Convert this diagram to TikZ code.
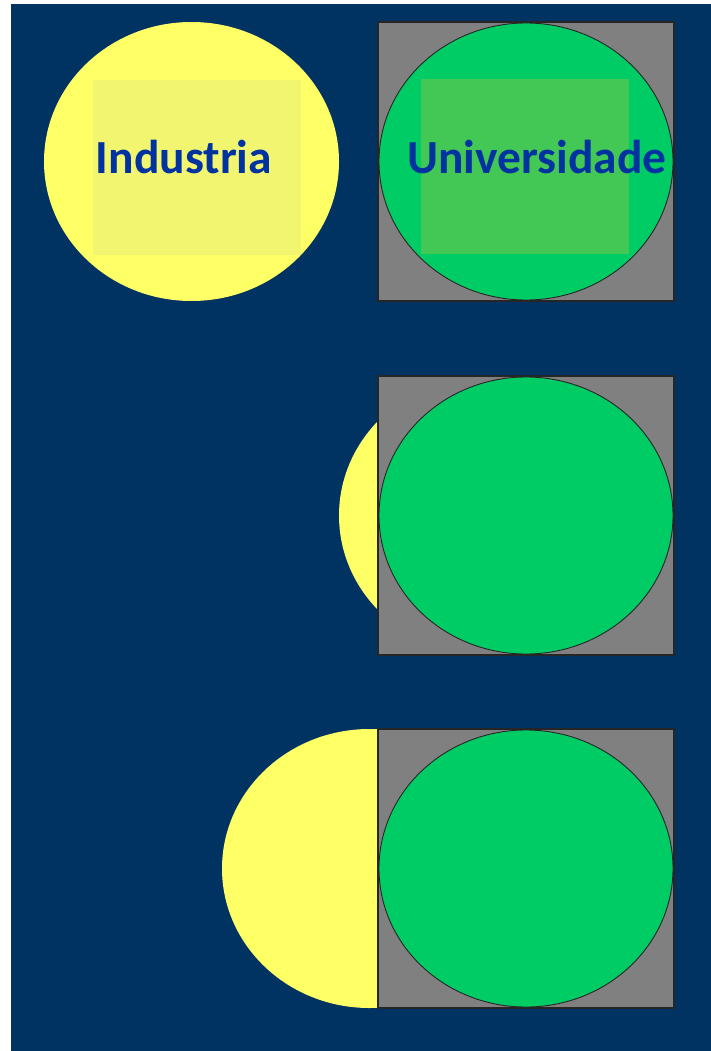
\documentclass[tikz,border=0pt]{standalone}
\usepackage{fontspec}
\setmainfont{Carlito}
\usetikzlibrary{shapes.geometric}
\definecolor{bgblue}{HTML}{003262}
\definecolor{sunyel}{HTML}{FFFF66}
\definecolor{paleyel}{HTML}{F2F570}
\definecolor{leafgrn}{HTML}{00CC66}
\definecolor{palegrn}{HTML}{44C855}
\definecolor{boxgray}{HTML}{808080}
\definecolor{txtblue}{HTML}{0033A0}
\tikzset{
  yelcirc/.style={ellipse, fill=sunyel, draw=none, minimum width=295pt, minimum height=279pt, inner sep=0pt},
  grncirc/.style={ellipse, fill=leafgrn, draw=black!85, line width=0.9pt, minimum width=294pt, minimum height=277pt, inner sep=0pt},
  graybox/.style={rectangle, fill=boxgray, draw=black!85, line width=2pt, minimum width=296pt, minimum height=279pt, inner sep=0pt},
  innerbox/.style={rectangle, draw=none, inner sep=0pt, minimum width=208pt, minimum height=175pt},
  lbl/.style={text=txtblue, font=\fontsize{47.5}{53}\selectfont\bfseries, inner sep=0pt}
}
\begin{document}
\begin{tikzpicture}[x=1pt,y=-1pt]
\useasboundingbox (0,0) rectangle (711,1051);
\fill[white] (0,0) rectangle (711,1051);
\fill[bgblue] (11,4) rectangle (711,1051);
% row 1
\node[yelcirc] (ind) at (191.5,161.5) {};
\node[innerbox, fill=paleyel] (indbox) at (197,167.5) {};
\node[graybox] (sq1) at (526,161.5) {};
\node[grncirc] (uni) at (526,161.5) {};
\node[innerbox, fill=palegrn] (unibox) at (525,166.5) {};
\node[lbl] (indtxt) at (184,157) {Industria};
\node[lbl] (unitxt) at (537,157) {Universidade};
% row 2
\node[yelcirc] (ind2) at (486.5,515.5) {};
\node[graybox] (sq2) at (526,515.5) {};
\node[grncirc] (uni2) at (526,515.5) {};
% row 3
\node[yelcirc] (ind3) at (369.5,868.5) {};
\node[graybox] (sq3) at (526,868.5) {};
\node[grncirc] (uni3) at (526,868.5) {};
\end{tikzpicture}
\end{document}
